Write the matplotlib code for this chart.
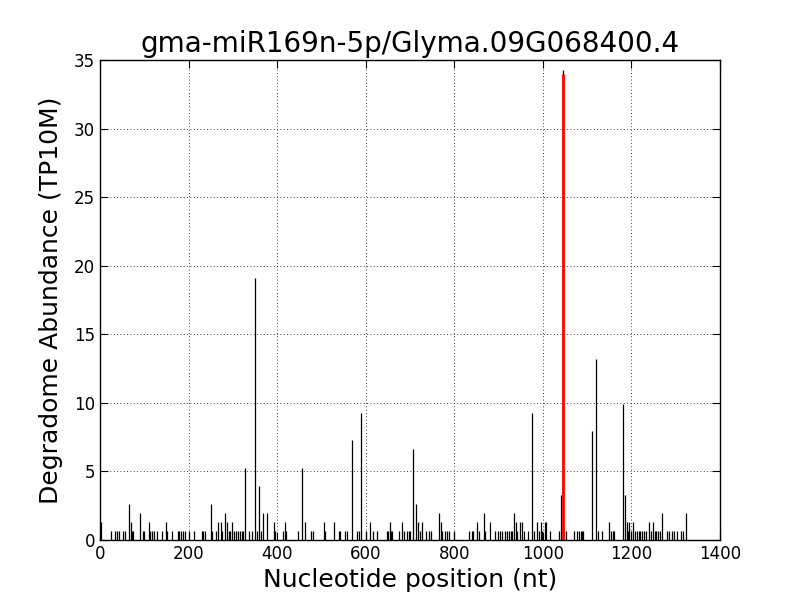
import matplotlib
matplotlib.use("Agg")
import matplotlib.pyplot as plt

title = "gma-miR169n-5p/Glyma.09G068400.4"
xlabel = "Nucleotide position (nt)"
ylabel = "Degradome Abundance (TP10M)"

positions = [2, 25, 34, 38, 43, 52, 56, 66, 69, 73, 75, 91, 96, 100, 111, 114, 118, 123, 129,
             141, 149, 151, 163, 175, 179, 184, 188, 192, 201, 212, 230, 233, 237, 251, 254,
             261, 267, 273, 276, 282, 287, 292, 294, 299, 302, 306, 311, 315, 320, 324, 328,
             336, 344, 349, 355, 360, 364, 369, 378, 394, 396, 414, 418, 421, 446, 457, 464,
             477, 482, 506, 509, 529, 539, 543, 553, 557, 570, 581, 585, 590, 601, 610, 617,
             626, 647, 650, 654, 656, 659, 676, 681, 686, 693, 697, 700, 707, 714, 719, 722,
             726, 737, 742, 747, 766, 769, 772, 779, 784, 787, 799, 834, 839, 842, 852, 856,
             866, 869, 881, 892, 899, 903, 907, 915, 919, 923, 927, 930, 935, 940, 942, 948,
             954, 958, 967, 975, 979, 987, 992, 996, 999, 1004, 1008, 1016, 1037, 1040, 1045,
             1052, 1070, 1078, 1081, 1085, 1088, 1091, 1112, 1120, 1124, 1134, 1149, 1153,
             1158, 1161, 1182, 1185, 1189, 1192, 1195, 1200, 1204, 1208, 1212, 1216, 1220,
             1224, 1229, 1234, 1240, 1245, 1249, 1253, 1256, 1260, 1264, 1270, 1281, 1285,
             1291, 1296, 1302, 1311, 1316, 1323]
values = [1.32, 0.66, 0.66, 0.66, 0.66, 0.66, 0.66, 2.64, 1.32, 0.66, 0.66, 1.98, 0.66, 0.66, 1.32, 0.66, 0.66, 0.66, 0.66,
          0.66, 1.32, 0.66, 0.66, 0.66, 0.66, 0.66, 0.66, 0.66, 0.66, 0.66, 0.66, 0.66, 0.66, 2.64, 0.66,
          0.66, 1.32, 1.32, 0.66, 1.98, 1.32, 0.66, 0.66, 1.32, 0.66, 0.66, 0.66, 0.66, 0.66, 0.66, 5.28,
          0.66, 0.66, 19.14, 0.66, 3.96, 0.66, 1.98, 1.98, 1.32, 0.66, 0.66, 1.32, 0.66, 0.66, 5.28, 1.32,
          0.66, 0.66, 1.32, 0.66, 1.32, 0.66, 0.66, 0.66, 0.66, 7.26, 0.66, 0.66, 9.24, 0.66, 1.32, 0.66,
          0.66, 0.66, 0.66, 1.32, 0.66, 0.66, 0.66, 1.32, 0.66, 0.66, 0.66, 0.66, 6.6, 2.64, 1.32, 0.66,
          1.32, 0.66, 0.66, 0.66, 1.98, 1.32, 0.66, 0.66, 0.66, 0.66, 0.66, 0.66, 0.66, 0.66, 1.32, 0.66,
          1.98, 0.66, 1.32, 0.66, 0.66, 0.66, 0.66, 0.66, 0.66, 0.66, 0.66, 0.66, 1.98, 1.32, 0.66, 1.32,
          1.32, 0.66, 0.66, 9.24, 0.66, 1.32, 0.66, 1.32, 0.66, 1.32, 1.32, 0.66, 0.66, 3.3, 34.3,
          0.66, 0.66, 0.66, 0.66, 0.66, 0.66, 0.66, 7.92, 13.2, 0.66, 0.66, 1.32, 0.66,
          0.66, 0.66, 9.9, 3.3, 1.32, 0.66, 1.32, 0.66, 1.32, 0.66, 0.66, 0.66, 0.66,
          0.66, 0.66, 0.66, 1.32, 0.66, 1.32, 0.66, 0.66, 0.66, 0.66, 1.98, 0.66, 0.66,
          0.66, 0.66, 0.66, 0.66, 0.66, 1.98]

target_position = 1045
target_value = 34.0

plt.rcParams['font.family'] = ['DejaVu Sans']
fig = plt.figure(figsize=(8, 6), dpi=100)
ax = fig.add_axes([0.125, 0.1, 0.775, 0.8])

ax.vlines(positions, 0, values, colors='black', linewidth=0.9)
ax.vlines([target_position], 0, [target_value], colors='red', linewidth=2)

ax.set_xlim(0, 1400)
ax.set_ylim(0, 35)
ax.set_xticks(range(0, 1401, 200))
ax.set_yticks(range(0, 36, 5))
ax.grid(True, linestyle=(0, (1, 3)), color='black', linewidth=0.6)
ax.set_axisbelow(True)
ax.tick_params(direction='in', top=True, right=True, labelsize=12, length=6)
for s in ax.spines.values():
    s.set_linewidth(1)
ax.set_title(title, fontsize=20)
ax.set_xlabel(xlabel, fontsize=18)
ax.set_ylabel(ylabel, fontsize=18, labelpad=8)

fig.savefig("out.png", dpi=100)
